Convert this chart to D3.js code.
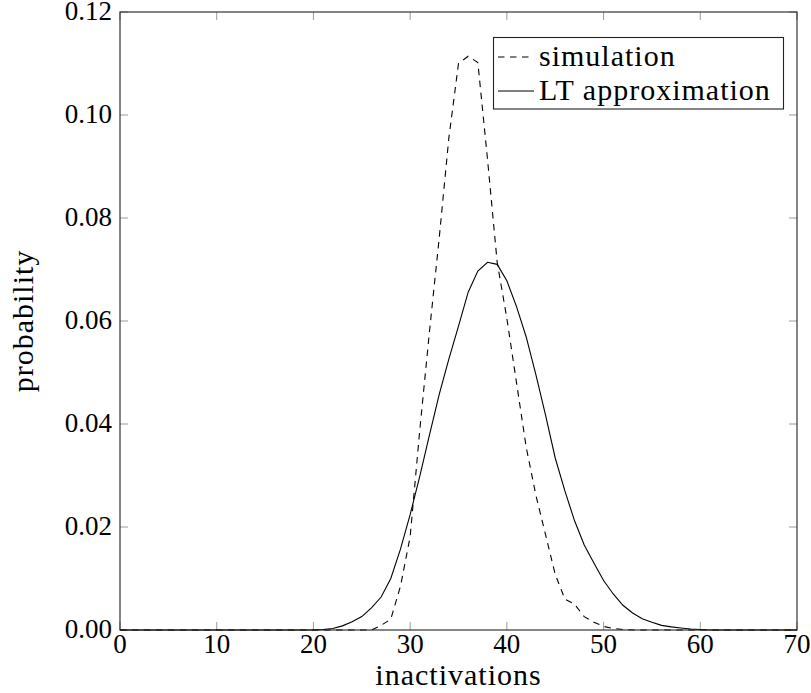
<!DOCTYPE html>
<html>
<head>
<meta charset="utf-8">
<script src="https://cdn.jsdelivr.net/npm/d3@7"></script>
<style>
  html, body { margin: 0; padding: 0; background: #fff; }
  svg { display: block; }
  text { font-family: "Liberation Serif", "DejaVu Serif", serif; fill: #000; }
</style>
</head>
<body>
<svg id="chart" width="811" height="693"></svg>
<script>
// Number of inactivations (x) and probability per value
const inactivations = d3.range(0, 71);

// Simulated distribution (dashed)
const simulation = [
  0, 0, 0, 0, 0, 0, 0, 0, 0, 0,
  0, 0, 0, 0, 0, 0, 0, 0, 0, 0,
  0, 0, 0, 0, 0, 0, 0.0000, 0.0009, 0.0021, 0.0085,
  0.0181, 0.0389, 0.0580, 0.0760, 0.0955, 0.1100, 0.1114, 0.1102, 0.0914, 0.0714,
  0.0605, 0.0480, 0.0355, 0.0262, 0.0185, 0.0108, 0.0060, 0.0050, 0.0026, 0.0015,
  0.0007, 0.0003, 0.0001, 0, 0, 0, 0, 0, 0, 0,
  0, 0, 0, 0, 0, 0, 0, 0, 0, 0,
  0
];

// LT approximation (solid)
const ltApprox = [
  0, 0, 0, 0, 0, 0, 0, 0, 0, 0,
  0, 0, 0, 0, 0, 0, 0, 0, 0, 0,
  0.0000, 0.0001, 0.0003, 0.0008, 0.0016, 0.0026, 0.0043, 0.0064, 0.0100, 0.0157,
  0.0224, 0.0299, 0.0379, 0.0457, 0.0526, 0.0590, 0.0656, 0.0697, 0.0714, 0.0710,
  0.0678, 0.0628, 0.0569, 0.0496, 0.0417, 0.0334, 0.0270, 0.0212, 0.0165, 0.0130,
  0.0096, 0.0070, 0.0048, 0.0033, 0.0022, 0.0015, 0.0009, 0.0006, 0.0004, 0.0002,
  0.0001, 0, 0, 0, 0, 0, 0, 0, 0, 0,
  0
];

const xTicks = [0, 10, 20, 30, 40, 50, 60, 70];
const yTicks = [0, 0.02, 0.04, 0.06, 0.08, 0.10, 0.12];
const seriesNames = ["simulation", "LT approximation"];

const svg = d3.select("#chart");
const W = 811, H = 693;
const margin = { left: 120, right: 14, top: 12, bottom: 63 };
const x0 = margin.left, x1 = W - margin.right;
const y0 = H - margin.bottom, y1 = margin.top;

const x = d3.scaleLinear().domain([0, 70]).range([x0, x1]);
const y = d3.scaleLinear().domain([0, 0.12]).range([y0, y1]);

const FS = 27;       // tick labels
const FL = 30;       // titles and legend
const tickLen = 8;
const tickColor = "#9a9a9a";

// inward ticks on all four sides
const g = svg.append("g");
g.selectAll("line.xb").data(xTicks).join("line")
  .attr("x1", d => x(d)).attr("x2", d => x(d))
  .attr("y1", y0).attr("y2", y0 - tickLen)
  .attr("stroke", tickColor).attr("stroke-width", 1);
g.selectAll("line.xt").data(xTicks).join("line")
  .attr("x1", d => x(d)).attr("x2", d => x(d))
  .attr("y1", y1).attr("y2", y1 + tickLen)
  .attr("stroke", tickColor).attr("stroke-width", 1);
g.selectAll("line.yl").data(yTicks).join("line")
  .attr("x1", x0).attr("x2", x0 + tickLen)
  .attr("y1", d => y(d)).attr("y2", d => y(d))
  .attr("stroke", tickColor).attr("stroke-width", 1);
g.selectAll("line.yr").data(yTicks).join("line")
  .attr("x1", x1).attr("x2", x1 - tickLen)
  .attr("y1", d => y(d)).attr("y2", d => y(d))
  .attr("stroke", tickColor).attr("stroke-width", 1);

// curves
const line = d3.line()
  .x((d, i) => x(inactivations[i]))
  .y(d => y(d));

svg.append("path")
  .datum(simulation)
  .attr("d", line)
  .attr("fill", "none")
  .attr("stroke", "#000")
  .attr("stroke-width", 1.1)
  .attr("stroke-dasharray", "6.5,5.5");

svg.append("path")
  .datum(ltApprox)
  .attr("d", line)
  .attr("fill", "none")
  .attr("stroke", "#000")
  .attr("stroke-width", 1.1);

// frame
svg.append("rect")
  .attr("x", x0).attr("y", y1)
  .attr("width", x1 - x0).attr("height", y0 - y1)
  .attr("fill", "none").attr("stroke", "#222").attr("stroke-width", 1.1);

// tick labels
const fmtY = d3.format(".2f");
svg.selectAll("text.xl").data(xTicks).join("text")
  .attr("x", d => x(d)).attr("y", y0 + 23)
  .attr("text-anchor", "middle")
  .attr("font-size", FS)
  .text(d => d);
svg.selectAll("text.yl").data(yTicks).join("text")
  .attr("x", x0 - 8).attr("y", d => y(d) + 8)
  .attr("text-anchor", "end")
  .attr("font-size", FS)
  .text(d => fmtY(d));

// axis titles
svg.append("text")
  .attr("x", (x0 + x1) / 2).attr("y", 685)
  .attr("text-anchor", "middle")
  .attr("font-size", FL)
  .attr("letter-spacing", 1)
  .text("inactivations");
svg.append("text")
  .attr("transform", `translate(33,${(y0 + y1) / 2}) rotate(-90)`)
  .attr("text-anchor", "middle")
  .attr("font-size", FL)
  .attr("letter-spacing", 1)
  .text("probability");

// legend
const lg = svg.append("g");
lg.append("rect")
  .attr("x", 493.5).attr("y", 37.5)
  .attr("width", 290).attr("height", 71.5)
  .attr("fill", "#fff").attr("stroke", "#222").attr("stroke-width", 1.1);
const rows = [57, 91];
seriesNames.forEach((name, i) => {
  lg.append("line")
    .attr("x1", 498).attr("x2", 534)
    .attr("y1", rows[i]).attr("y2", rows[i])
    .attr("stroke", "#000").attr("stroke-width", 1.1)
    .attr("stroke-dasharray", i === 0 ? "6.5,5.5" : null);
  lg.append("text")
    .attr("x", 539).attr("y", rows[i] + 9)
    .attr("font-size", FL)
    .attr("letter-spacing", 1)
    .text(name);
});
</script>
</body>
</html>
